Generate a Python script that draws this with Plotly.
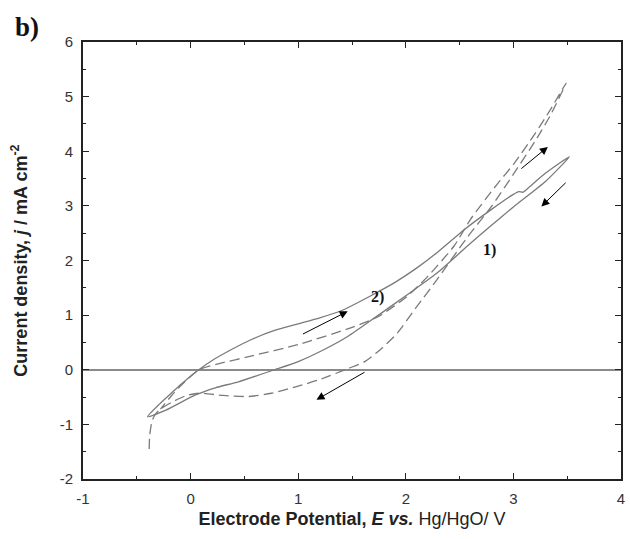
import plotly.graph_objects as go

# Curve 1) solid loop (forward upper branch, then return lower branch)
solid_x = [-0.40, -0.29, -0.18, -0.08, 0.076, 0.2, 0.38, 0.55, 0.78, 1.0, 1.2, 1.4, 1.68, 1.9, 2.1, 2.3, 2.54, 2.8, 3.0, 3.05, 3.09, 3.15, 3.3, 3.52,
           3.3, 3.0, 2.78, 2.57, 2.29, 2.01, 1.71, 1.46, 1.2, 1.0, 0.78, 0.445, 0.23, 0.045, -0.23, -0.40]
solid_y = [-0.86, -0.63, -0.43, -0.25, 0.0, 0.17, 0.37, 0.54, 0.72, 0.84, 0.95, 1.08, 1.36, 1.6, 1.86, 2.16, 2.56, 2.94, 3.21, 3.26, 3.25, 3.35, 3.6, 3.90,
           3.45, 2.98, 2.62, 2.26, 1.77, 1.37, 0.95, 0.61, 0.33, 0.15, 0.0, -0.22, -0.33, -0.46, -0.74, -0.86]

# Curve 2) dashed loop (initial tail, lower branch up, upper branch back)
dash_x = [-0.385, -0.38, -0.36, -0.33, -0.28, -0.18, -0.05, 0.076, 0.3, 0.54, 0.75, 1.0, 1.2, 1.46, 1.61, 1.77, 1.92, 2.1, 2.29, 2.57, 2.8, 3.0, 3.2, 3.35, 3.49,
          3.35, 3.2, 3.0, 2.85, 2.6, 2.45, 2.2, 2.01, 1.75, 1.52, 1.0, 0.54, 0.3, 0.076, -0.08, -0.18, -0.28]
dash_y = [-1.45, -1.2, -0.95, -0.82, -0.72, -0.6, -0.48, -0.43, -0.47, -0.49, -0.43, -0.3, -0.18, 0.02, 0.14, 0.38, 0.67, 1.15, 1.65, 2.42, 3.0, 3.58, 4.18, 4.68, 5.25,
          4.78, 4.32, 3.76, 3.4, 2.75, 2.27, 1.7, 1.34, 0.98, 0.79, 0.46, 0.24, 0.13, 0.0, -0.27, -0.48, -0.72]

# Arrows: (tail_x, tail_y, head_x, head_y)
arrow_tail_x = [1.03, 1.63, 3.06, 3.50]
arrow_tail_y = [0.64, -0.03, 3.66, 3.45]
arrow_head_x = [1.46, 1.17, 3.32, 3.26]
arrow_head_y = [1.07, -0.55, 4.08, 2.99]

# Curve labels
label_text = ["1)", "2)"]
label_x = [2.78, 1.74]
label_y = [2.20, 1.33]

x_ticks = [-1, 0, 1, 2, 3, 4]
x_tick_text = ["-1", "0", "1", "2", "3", "4"]
y_ticks = [-2, -1, 0, 1, 2, 3, 4, 5, 6]
y_tick_text = ["-2", "-1", "0", "1", "2", "3", "4", "5", "6"]

fig = go.Figure()
fig.add_trace(go.Scatter(x=solid_x, y=solid_y, mode="lines",
                         line=dict(color="#7a7a7a", width=1.3, shape="spline", smoothing=0.6),
                         showlegend=False, hoverinfo="skip"))
fig.add_trace(go.Scatter(x=dash_x, y=dash_y, mode="lines",
                         line=dict(color="#7a7a7a", width=1.3, dash="10px,5px", shape="spline", smoothing=0.6),
                         showlegend=False, hoverinfo="skip"))

annotations = []
for tx, ty, hx, hy in zip(arrow_tail_x, arrow_tail_y, arrow_head_x, arrow_head_y):
    annotations.append(dict(x=hx, y=hy, ax=tx, ay=ty, xref="x", yref="y", axref="x", ayref="y",
                            text="", showarrow=True, arrowhead=2, arrowsize=1.6, arrowwidth=1,
                            arrowcolor="#000000"))
for t, lx, ly in zip(label_text, label_x, label_y):
    annotations.append(dict(x=lx, y=ly, xref="x", yref="y", text="<b>" + t + "</b>", showarrow=False,
                            font=dict(family="Liberation Serif", size=16, color="#111111")))
annotations.append(dict(x=-0.105, y=1.034, xref="paper", yref="paper", text="<b>b)</b>", showarrow=False,
                        xanchor="center", yanchor="middle",
                        font=dict(family="Liberation Serif", size=27, color="#111111")))

axis_common = dict(showline=True, linecolor="#222222", linewidth=1.6, mirror="allticks",
                   ticks="inside", ticklen=6, tickwidth=1.2, tickcolor="#222222",
                   showgrid=False, ticklabelstandoff=5,
                   tickfont=dict(family="Liberation Sans", size=15, color="#333333"))

fig.update_layout(
    width=630, height=539,
    margin=dict(l=83, r=5, t=42, b=60),
    paper_bgcolor="white", plot_bgcolor="white",
    xaxis=dict(range=[-1, 4], tickvals=x_ticks, ticktext=x_tick_text, zeroline=False,
               minor=dict(ticks="inside", ticklen=3, tickwidth=1.2, tickcolor="#222222", dtick=0.5, showgrid=False),
               title=dict(text="<b>Electrode Potential, <i>E vs.</i></b> Hg/HgO/ V",
                          font=dict(family="Liberation Sans", size=18, color="#222222"), standoff=7),
               **axis_common),
    yaxis=dict(range=[-2, 6], tickvals=y_ticks, ticktext=y_tick_text, zeroline=True,
               zerolinecolor="#8a8a8a", zerolinewidth=1.5,
               minor=dict(ticks="inside", ticklen=3, tickwidth=1.2, tickcolor="#222222", dtick=0.5, showgrid=False),
               title=dict(text="<b>Current density, <i>j</i> / mA cm<sup>-2</sup></b>",
                          font=dict(family="Liberation Sans", size=18, color="#222222"), standoff=28),
               **axis_common),
    annotations=annotations,
)

fig.write_html("out.html")
